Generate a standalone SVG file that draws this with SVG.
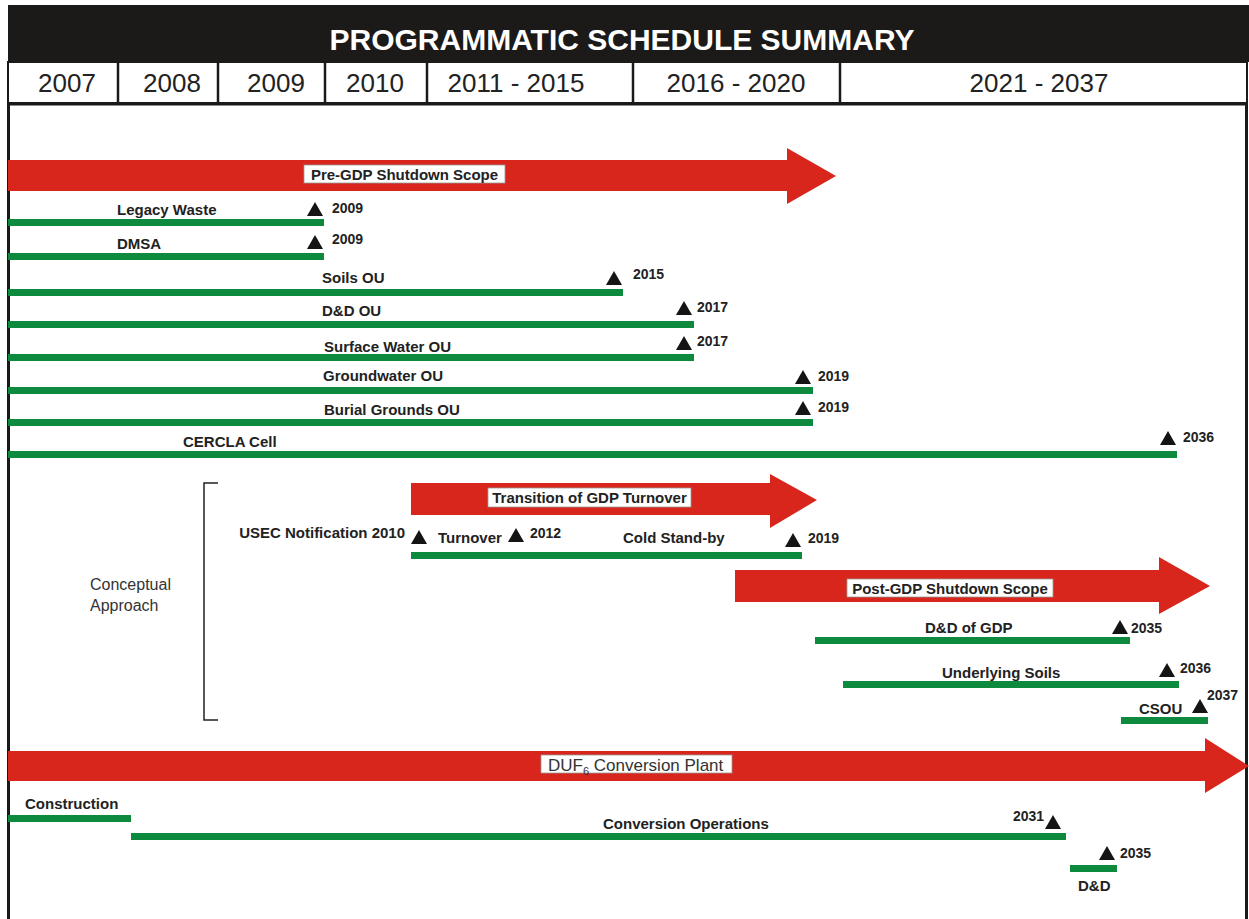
<svg xmlns="http://www.w3.org/2000/svg" width="1249" height="919" viewBox="0 0 1249 919">
<defs>
<style>
.bar{fill:#0d8a3e}
.arrow{fill:#d8261d}
.tri{fill:#141414}
.lbl{font-family:"Liberation Sans",Arial,sans-serif;font-weight:bold;font-size:15px;fill:#222}
.yr{font-family:"Liberation Sans",Arial,sans-serif;font-weight:bold;font-size:14px;fill:#222}
.box{fill:#fff;stroke:#999;stroke-width:0.8}
.boxt{font-family:"Liberation Sans",Arial,sans-serif;font-weight:bold;font-size:15px;fill:#222;text-anchor:middle}
.hdr{font-family:"Liberation Sans",Arial,sans-serif;font-size:26px;fill:#222;text-anchor:middle}
.reg{font-family:"Liberation Sans",Arial,sans-serif;font-size:16px;fill:#333}
</style>
<path id="tri" d="M0,0 L8,-14 L16,0 Z"/>
</defs>
<rect x="0" y="0" width="1249" height="919" fill="#fff"/>

<g id="header">
<rect x="8" y="5" width="1241" height="57" fill="#1c1a19"/>
<text x="622" y="50" text-anchor="middle" font-family="Liberation Sans, Arial, sans-serif" font-weight="bold" font-size="30" fill="#fff">PROGRAMMATIC SCHEDULE SUMMARY</text>
<rect x="8" y="62" width="1239" height="41" fill="#fff" stroke="#1c1a19" stroke-width="2"/>
<g stroke="#1c1a19" stroke-width="2.5">
<line x1="118" y1="62" x2="118" y2="103"/>
<line x1="218" y1="62" x2="218" y2="103"/>
<line x1="325" y1="62" x2="325" y2="103"/>
<line x1="427" y1="62" x2="427" y2="103"/>
<line x1="633" y1="62" x2="633" y2="103"/>
<line x1="840" y1="62" x2="840" y2="103"/>
</g>
<text class="hdr" x="67" y="92">2007</text>
<text class="hdr" x="172" y="92">2008</text>
<text class="hdr" x="276" y="92">2009</text>
<text class="hdr" x="375" y="92">2010</text>
<text class="hdr" x="516" y="92">2011 - 2015</text>
<text class="hdr" x="736" y="92">2016 - 2020</text>
<text class="hdr" x="1039" y="92">2021 - 2037</text>
</g>

<g id="frame">
<rect x="8.5" y="104" width="1238" height="830" fill="none" stroke="#1c1a19" stroke-width="3"/>
</g>

<g id="pre-gdp">
<path class="arrow" d="M8,160 L787,160 L787,148 L836,176 L787,204 L787,191 L8,191 Z"/>
<rect class="box" x="304" y="165" width="201" height="18"/>
<text class="boxt" x="404.5" y="180">Pre-GDP Shutdown Scope</text>
</g>

<g id="legacy-waste">
<rect class="bar" x="8" y="219" width="316" height="7"/>
<text class="lbl" x="117" y="215">Legacy Waste</text>
<use href="#tri" class="tri" x="307" y="216"/>
<text class="yr" x="332" y="213">2009</text>
</g>

<g id="dmsa">
<rect class="bar" x="8" y="253" width="316" height="7"/>
<text class="lbl" x="117" y="249">DMSA</text>
<use href="#tri" class="tri" x="307" y="249"/>
<text class="yr" x="332" y="244">2009</text>
</g>

<g id="soils-ou">
<rect class="bar" x="8" y="289" width="615" height="7"/>
<text class="lbl" x="322" y="283">Soils OU</text>
<use href="#tri" class="tri" x="606" y="285"/>
<text class="yr" x="633" y="279">2015</text>
</g>

<g id="dd-ou">
<rect class="bar" x="8" y="321" width="686" height="7"/>
<text class="lbl" x="322" y="316">D&amp;D OU</text>
<use href="#tri" class="tri" x="676" y="315"/>
<text class="yr" x="697" y="312">2017</text>
</g>

<g id="surface-water-ou">
<rect class="bar" x="8" y="354" width="686" height="7"/>
<text class="lbl" x="324" y="352">Surface Water OU</text>
<use href="#tri" class="tri" x="676" y="350"/>
<text class="yr" x="697" y="346">2017</text>
</g>

<g id="groundwater-ou">
<rect class="bar" x="8" y="387" width="805" height="7"/>
<text class="lbl" x="323" y="381">Groundwater OU</text>
<use href="#tri" class="tri" x="795" y="384"/>
<text class="yr" x="818" y="381">2019</text>
</g>

<g id="burial-grounds-ou">
<rect class="bar" x="8" y="419" width="805" height="7"/>
<text class="lbl" x="324" y="415">Burial Grounds OU</text>
<use href="#tri" class="tri" x="795" y="415"/>
<text class="yr" x="818" y="412">2019</text>
</g>

<g id="cercla-cell">
<rect class="bar" x="8" y="451" width="1169" height="7"/>
<text class="lbl" x="183" y="447">CERCLA Cell</text>
<use href="#tri" class="tri" x="1160" y="445"/>
<text class="yr" x="1183" y="442">2036</text>
</g>

<g id="conceptual-approach">
<path d="M218,483 L204,483 L204,720 L218,720" fill="none" stroke="#222" stroke-width="1.5"/>
<text class="reg" x="90" y="590">Conceptual</text>
<text class="reg" x="90" y="611">Approach</text>
</g>

<g id="transition">
<path class="arrow" d="M411,483 L770,483 L770,474 L817,500 L770,528 L770,515 L411,515 Z"/>
<rect class="box" x="488" y="488" width="203" height="19"/>
<text class="boxt" x="589.5" y="503">Transition of GDP Turnover</text>
</g>

<g id="turnover">
<rect class="bar" x="411" y="552" width="391" height="7"/>
<text class="lbl" x="405" y="538" text-anchor="end">USEC Notification 2010</text>
<use href="#tri" class="tri" x="411" y="544"/>
<text class="lbl" x="438" y="543">Turnover</text>
<use href="#tri" class="tri" x="508" y="542"/>
<text class="yr" x="530" y="538">2012</text>
<text class="lbl" x="623" y="543">Cold Stand-by</text>
<use href="#tri" class="tri" x="785" y="547"/>
<text class="yr" x="808" y="543">2019</text>
</g>

<g id="post-gdp">
<path class="arrow" d="M735,570 L1159,570 L1159,557 L1210,586 L1159,614 L1159,602 L735,602 Z"/>
<rect class="box" x="847" y="579" width="206" height="18"/>
<text class="boxt" x="950" y="594">Post-GDP Shutdown Scope</text>
</g>

<g id="dd-of-gdp">
<rect class="bar" x="815" y="637" width="315" height="7"/>
<text class="lbl" x="925" y="633">D&amp;D of GDP</text>
<use href="#tri" class="tri" x="1112" y="634"/>
<text class="yr" x="1131" y="633">2035</text>
</g>

<g id="underlying-soils">
<rect class="bar" x="843" y="681" width="336" height="7"/>
<text class="lbl" x="942" y="678">Underlying Soils</text>
<use href="#tri" class="tri" x="1159" y="677"/>
<text class="yr" x="1180" y="673">2036</text>
</g>

<g id="csou">
<rect class="bar" x="1121" y="717" width="87" height="7"/>
<text class="lbl" x="1139" y="714">CSOU</text>
<use href="#tri" class="tri" x="1192" y="713"/>
<text class="yr" x="1207" y="700">2037</text>
</g>

<g id="duf6">
<path class="arrow" d="M8,751 L1205,751 L1205,738 L1249,766 L1205,793 L1205,781 L8,781 Z"/>
<rect class="box" x="541" y="755" width="191" height="18"/>
<text x="548" y="771" font-family="Liberation Sans, Arial, sans-serif" font-size="17" fill="#333">DUF<tspan font-size="11" dy="4">6</tspan><tspan dy="-4"> Conversion Plant</tspan></text>
</g>

<g id="construction">
<rect class="bar" x="8" y="815" width="123" height="7"/>
<text class="lbl" x="25" y="809">Construction</text>
</g>

<g id="conversion-operations">
<rect class="bar" x="131" y="833" width="935" height="7"/>
<text class="lbl" x="603" y="829">Conversion Operations</text>
<use href="#tri" class="tri" x="1045" y="829"/>
<text class="yr" x="1013" y="821">2031</text>
</g>

<g id="dd">
<rect class="bar" x="1070" y="865" width="47" height="7"/>
<text class="lbl" x="1078" y="891">D&amp;D</text>
<use href="#tri" class="tri" x="1099" y="860"/>
<text class="yr" x="1120" y="858">2035</text>
</g>

<g id="connectors"></g>
</svg>
